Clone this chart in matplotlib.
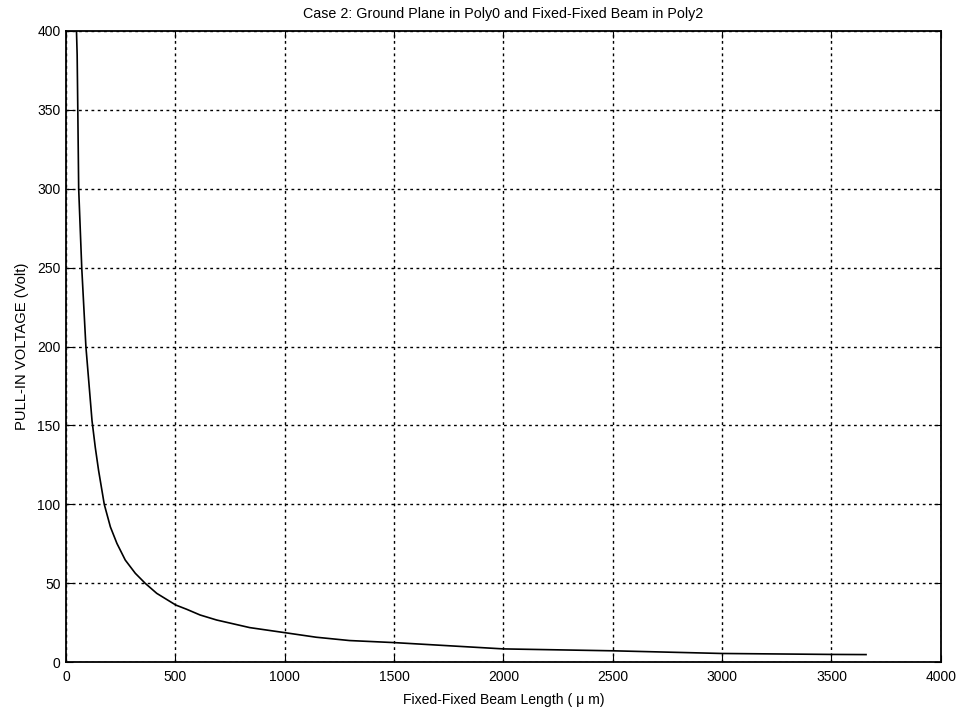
import matplotlib
matplotlib.use("Agg")
import matplotlib.pyplot as plt

# values
beam_length = [48, 51, 54, 58, 72, 91, 119, 134, 149, 175, 203, 233, 271, 317, 362,
               415, 502, 552, 613, 689, 840, 1000, 1144, 1296, 1500, 2000, 2500,
               3000, 3500, 3658]
pull_in_voltage = [400, 385, 350, 300, 250, 200, 153, 136, 121.5, 100, 85.7, 75.2, 64.7,
                   56.3, 50, 43.6, 36.2, 33.5, 29.9, 26.7, 21.9, 18.7, 15.8, 13.7, 12.4,
                   8.4, 7.2, 5.5, 4.9, 4.8]

x_ticks = [0, 500, 1000, 1500, 2000, 2500, 3000, 3500, 4000]
y_ticks = [0, 50, 100, 150, 200, 250, 300, 350, 400]

plt.rcParams['font.family'] = ['Liberation Sans', 'DejaVu Sans']

fig = plt.figure(figsize=(9.62, 7.12), dpi=100)
ax = fig.add_axes([0.0686, 0.070, 0.9094, 0.8865])

ax.plot(beam_length, pull_in_voltage, color="black", linewidth=1.2)

ax.set_xlim(0, 4000)
ax.set_ylim(0, 400)
ax.set_xticks(x_ticks)
ax.set_yticks(y_ticks)
ax.grid(True, color="black", linestyle=(0, (2, 2.5)), linewidth=1.0)
ax.tick_params(direction="in", top=True, right=True, length=5, labelsize=10)
ax.tick_params(axis="x", pad=6)
ax.tick_params(axis="y", pad=4)
for s in ax.spines.values():
    s.set_linewidth(1.3)

ax.set_title("Case 2: Ground Plane in Poly0 and Fixed-Fixed Beam in Poly2", fontsize=10.3, pad=9)
ax.set_xlabel("Fixed-Fixed Beam Length ( \u03bc m)", fontsize=10.1, labelpad=6)
ax.set_ylabel("PULL-IN VOLTAGE (Volt)", fontsize=10.6, labelpad=6)

fig.savefig("out.png", dpi=100)
